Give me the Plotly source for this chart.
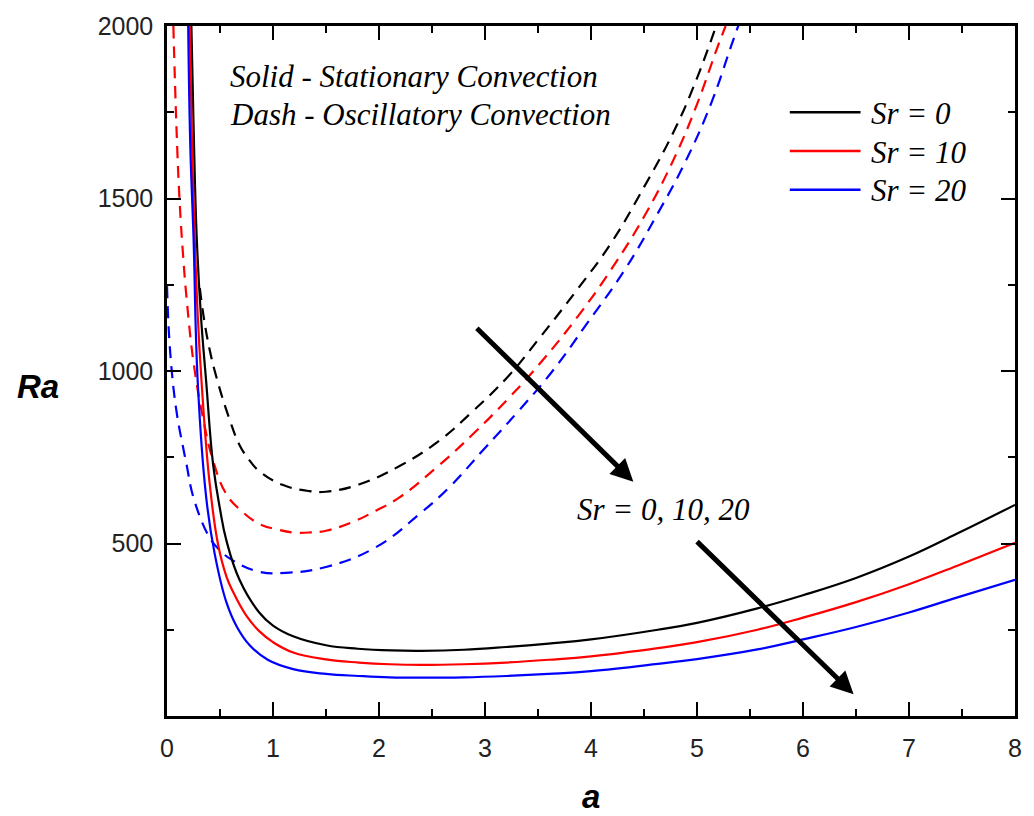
import plotly.graph_objects as go

# ---- data ----
# Stationary (solid)
a_st0 = [0.23, 0.25, 0.28, 0.32, 0.37, 0.435, 0.5, 0.56, 0.685, 0.87, 1.0, 1.19, 1.5, 1.8, 2.12, 2.4, 2.8, 3.2, 3.6, 4.0, 4.63, 5.0, 5.57, 6.0, 6.5, 7.0, 7.45, 8.0]
ra_st0 = [2000, 1720, 1390, 1160, 968, 729, 600, 509, 394, 300, 262, 231, 205, 195, 190, 189, 192, 200, 210, 222, 250, 270, 312, 350, 400, 462, 528, 612]

a_st10 = [0.215, 0.235, 0.26, 0.29, 0.326, 0.40, 0.48, 0.56, 0.62, 0.75, 0.87, 1.0, 1.19, 1.5, 1.81, 2.1, 2.4, 2.8, 3.2, 3.6, 4.0, 4.63, 5.0, 5.57, 6.0, 6.5, 7.0, 7.45, 8.0]
ra_st10 = [2000, 1680, 1400, 1160, 968, 681, 500, 405, 362, 290, 246, 214, 184, 164, 155, 150, 148, 150, 155, 163, 173, 197, 214, 250, 285, 330, 382, 435, 502]

a_st20 = [0.20, 0.22, 0.25, 0.29, 0.37, 0.45, 0.56, 0.66, 0.78, 0.95, 1.19, 1.5, 1.81, 2.1, 2.4, 2.8, 3.2, 3.6, 4.0, 4.63, 5.0, 5.57, 6.0, 6.5, 7.0, 7.45, 8.0]
ra_st20 = [2000, 1650, 1390, 968, 633, 470, 330, 258, 205, 163, 136, 122, 116, 112, 111, 112, 116, 122, 130, 151, 165, 193, 222, 258, 300, 343, 395]

# Oscillatory (dashed)
a_os0 = [0.31, 0.34, 0.40, 0.47, 0.59, 0.685, 0.78, 0.87, 1.09, 1.34, 1.5, 1.81, 2.19, 2.56, 2.88, 3.22, 3.5, 3.88, 4.19, 4.5, 4.79, 5.0, 5.18]
ra_os0 = [1240, 1169, 1065, 978, 860, 785, 740, 710, 670, 652, 650, 671, 724, 796, 882, 985, 1090, 1240, 1371, 1533, 1700, 1849, 2000]

a_os10 = [0.06, 0.09, 0.12, 0.153, 0.185, 0.25, 0.34, 0.435, 0.56, 0.7, 0.87, 1.05, 1.19, 1.35, 1.5, 1.75, 1.97, 2.19, 2.56, 2.88, 3.25, 3.53, 3.88, 4.19, 4.5, 4.79, 5.0, 5.19, 5.27]
ra_os10 = [2000, 1700, 1486, 1330, 1210, 1026, 863, 740, 643, 595, 557, 540, 532, 532, 537, 562, 595, 633, 725, 815, 930, 1026, 1160, 1294, 1447, 1620, 1773, 1936, 2000]

a_os20 = [0.0, 0.03, 0.09, 0.153, 0.185, 0.25, 0.40, 0.5, 0.62, 0.87, 1.12, 1.5, 1.97, 2.38, 2.66, 3.0, 3.31, 3.63, 3.97, 4.32, 4.63, 4.88, 5.13, 5.32, 5.40]
ra_os20 = [1246, 1055, 882, 777, 728, 633, 518, 480, 451, 418, 415, 432, 489, 585, 662, 777, 882, 997, 1141, 1294, 1457, 1600, 1773, 1940, 2010]

labels = ["Sr = 0", "Sr = 10", "Sr = 20"]
colors = ["#000000", "#ff0000", "#0000ff"]

x_ticks = [0, 1, 2, 3, 4, 5, 6, 7, 8]
y_ticks = [0, 500, 1000, 1500, 2000]
y_ticktext = ["", "500", "1000", "1500", "2000"]

fig = go.Figure()
stat = [(a_st0, ra_st0), (a_st10, ra_st10), (a_st20, ra_st20)]
osc = [(a_os0, ra_os0), (a_os10, ra_os10), (a_os20, ra_os20)]
for (ax_, ay_), c, lab in zip(osc, colors, labels):
    fig.add_trace(go.Scatter(x=ax_, y=ay_, mode="lines", name=lab + " (osc)",
                             line=dict(color=c, width=2.2, dash="12px,8px", shape="spline", smoothing=1.2),
                             showlegend=False))
for (ax_, ay_), c, lab in zip(stat, colors, labels):
    fig.add_trace(go.Scatter(x=ax_, y=ay_, mode="lines", name=lab,
                             line=dict(color=c, width=2.2, shape="spline", smoothing=1.2),
                             showlegend=False))

# plot area in pixels
L, R, T, B = 167, 1018, 21, 716
W, H = 1034, 816

def px(x):
    return (x - L) / (R - L)

def py(y):
    return (B - y) / (B - T)

serif = "Liberation Serif"
sans = "Liberation Sans"
tsize = 31

annotations = []
shapes = []
# manual legend
leg_y = [108, 147, 186]
for yy, c, lab in zip(leg_y, colors, labels):
    shapes.append(dict(type="line", xref="paper", yref="paper", x0=px(792), x1=px(863),
                       y0=py(yy), y1=py(yy), line=dict(color=c, width=2.5)))
    annotations.append(dict(xref="paper", yref="paper", x=px(871), y=py(yy + 1), xanchor="left",
                            yanchor="middle", text=lab, showarrow=False,
                            font=dict(family=serif, size=tsize, color="black", style="italic")))

annotations.append(dict(xref="paper", yref="paper", x=px(228), y=py(72), xanchor="left", yanchor="middle",
                        text="Solid - Stationary Convection", showarrow=False,
                        font=dict(family=serif, size=tsize, color="black", style="italic")))
annotations.append(dict(xref="paper", yref="paper", x=px(228), y=py(110), xanchor="left", yanchor="middle",
                        text="Dash - Oscillatory Convection", showarrow=False,
                        font=dict(family=serif, size=tsize, color="black", style="italic")))
annotations.append(dict(xref="paper", yref="paper", x=px(576), y=py(508), xanchor="left", yanchor="middle",
                        text="Sr = 0, 10, 20", showarrow=False,
                        font=dict(family=serif, size=tsize, color="black", style="italic")))
# arrows
for (x0, y0, x1, y1) in [(477, 325, 635, 480), (698, 540, 856, 694)]:
    annotations.append(dict(xref="paper", yref="paper", axref="pixel", ayref="pixel",
                            x=px(x1), y=py(y1), ax=x0 - x1, ay=y0 - y1, text="", showarrow=True,
                            arrowhead=2, arrowsize=0.9, arrowwidth=5, arrowcolor="black", standoff=0))
# axis titles
annotations.append(dict(xref="paper", yref="paper", x=px(38), y=py(384), xanchor="center", yanchor="middle",
                        text="<b><i>Ra</i></b>", showarrow=False, font=dict(family=sans, size=33, color="black")))
annotations.append(dict(xref="paper", yref="paper", x=px(592), y=py(797), xanchor="center", yanchor="middle",
                        text="<b><i>a</i></b>", showarrow=False, font=dict(family=sans, size=33, color="black")))

axis_common = dict(showline=True, linewidth=2.5, linecolor="black", mirror="allticks",
                   ticks="inside", ticklen=14, tickwidth=2, tickcolor="black",
                   showgrid=False, zeroline=False,
                   tickfont=dict(family=sans, size=25, color="#222222"))

fig.update_layout(
    width=W, height=H,
    margin=dict(l=L, r=W - R, t=T, b=H - B),
    paper_bgcolor="white", plot_bgcolor="white",
    xaxis=dict(range=[0, 8], tickmode="array", tickvals=x_ticks, ticklabelstandoff=8,
               minor=dict(tickmode="linear", tick0=0, dtick=0.5, ticks="inside", ticklen=7, tickwidth=2, tickcolor="black"),
               **axis_common),
    yaxis=dict(range=[0, 2000], tickmode="array", tickvals=y_ticks, ticktext=y_ticktext, ticklabelstandoff=6,
               minor=dict(tickmode="linear", tick0=0, dtick=250, ticks="inside", ticklen=7, tickwidth=2, tickcolor="black"),
               **axis_common),
    annotations=annotations, shapes=shapes, showlegend=False,
)
fig.write_html("out.html")
